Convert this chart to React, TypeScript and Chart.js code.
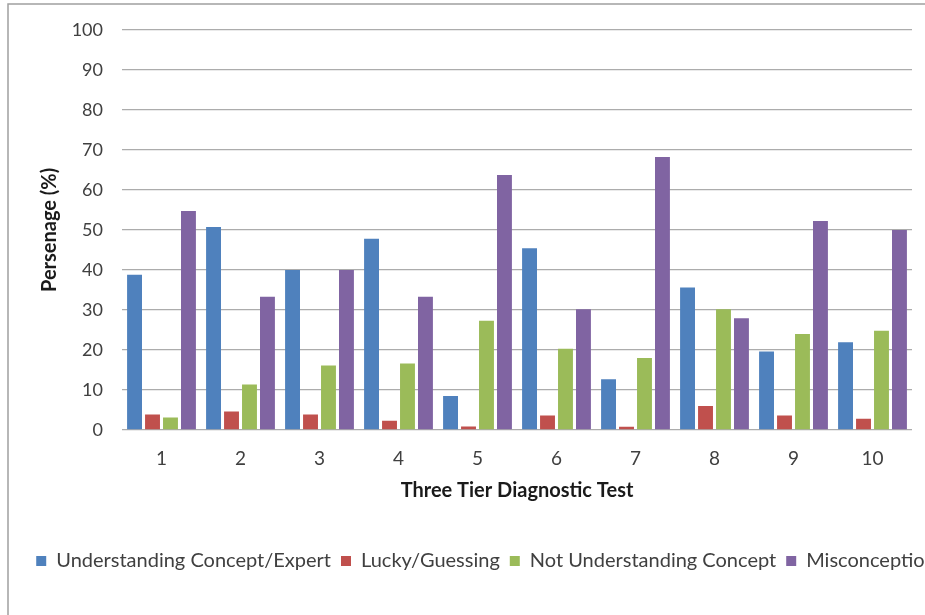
import React, { useEffect, useRef } from "react";
import { Chart, registerables } from "chart.js";

Chart.register(...registerables);

const categories = ["1", "2", "3", "4", "5", "6", "7", "8", "9", "10"];
const seriesNames = [
  "Understanding Concept/Expert",
  "Lucky/Guessing",
  "Not Understanding Concept",
  "Misconception",
];
const expert = [38.8, 50.7, 40.0, 47.8, 8.5, 45.4, 12.7, 35.6, 19.6, 21.9];
const lucky = [3.9, 4.6, 3.9, 2.3, 0.9, 3.6, 0.8, 6.0, 3.6, 2.8];
const notUnderstanding = [3.1, 11.4, 16.1, 16.6, 27.3, 20.3, 18.0, 30.2, 24.0, 24.8];
const misconception = [54.7, 33.3, 40.0, 33.3, 63.7, 30.2, 68.2, 27.9, 52.2, 50.0];
const colors = ["#4F81BD", "#C0504D", "#9BBB59", "#8064A2"];

const FONT = "Lato, 'Open Sans', sans-serif";

const framePlugin = {
  id: "frame",
  beforeDraw(chart: any) {
    const ctx = chart.ctx;
    ctx.save();
    ctx.fillStyle = "#ffffff";
    ctx.fillRect(0, 0, chart.width, chart.height);
    ctx.strokeStyle = "#a0a0a0";
    ctx.lineWidth = 1.5;
    ctx.strokeRect(8, 4, chart.width + 20, chart.height + 20);
    ctx.restore();
  },
};

export default function App() {
  const ref = useRef<HTMLCanvasElement | null>(null);
  useEffect(() => {
    if (!ref.current) return;
    const series = [expert, lucky, notUnderstanding, misconception];
    const chart = new Chart(ref.current, {
      type: "bar",
      data: {
        labels: categories,
        datasets: series.map((d, i) => ({
          label: seriesNames[i],
          data: d,
          backgroundColor: colors[i],
          borderWidth: 0,
          categoryPercentage: 0.91,
          barPercentage: 0.83,
          yAxisID: "y",
        })),
      },
      options: {
        animation: false,
        responsive: false,
        devicePixelRatio: 1,
        layout: { padding: { top: 28, left: 0, right: 0, bottom: 34 } },
        plugins: {
          tooltip: { enabled: false },
          legend: {
            position: "bottom",
            labels: {
              boxWidth: 10,
              boxHeight: 10,
              padding: 10,
              color: "#404040",
              font: { family: FONT, size: 20 },
            },
          },
        },
        scales: {
          x: {
            grid: { display: false, drawTicks: false },
            border: { display: false },
            ticks: { color: "#404040", padding: 17, font: { family: FONT, size: 19 } },
            title: {
              display: true,
              text: "Three Tier Diagnostic Test",
              color: "#1a1a1a",
              font: { family: FONT, size: 20, weight: "bold" },
              padding: { top: 0, bottom: 38 },
            },
            afterFit(scale: any) {
              scale.height = 111;
            },
          },
          y: {
            min: 0,
            max: 100,
            ticks: { stepSize: 10, color: "#404040", padding: 19, font: { family: FONT, size: 18 } },
            grid: { color: "#acacac", lineWidth: 1.3, drawTicks: false },
            border: { display: false },
            title: {
              display: true,
              text: "Persenage (%)",
              color: "#1a1a1a",
              font: { family: FONT, size: 20, weight: "bold" },
              padding: { top: 38, bottom: 0 },
            },
            afterFit(scale: any) {
              scale.width = 122;
            },
          },
          y2: {
            position: "right",
            display: true,
            ticks: { display: false },
            grid: { display: false, drawTicks: false },
            border: { display: false },
            afterFit(scale: any) {
              scale.width = 60;
            },
          },
        },
      },
      plugins: [framePlugin],
    });
    return () => chart.destroy();
  }, []);
  return (
    <div style={{ position: "fixed", left: 0, top: 0, width: 925, height: 615, overflow: "hidden", background: "#fff" }}>
      <canvas ref={ref} width={972} height={615} style={{ width: 972, height: 615, display: "block" }} />
    </div>
  );
}
